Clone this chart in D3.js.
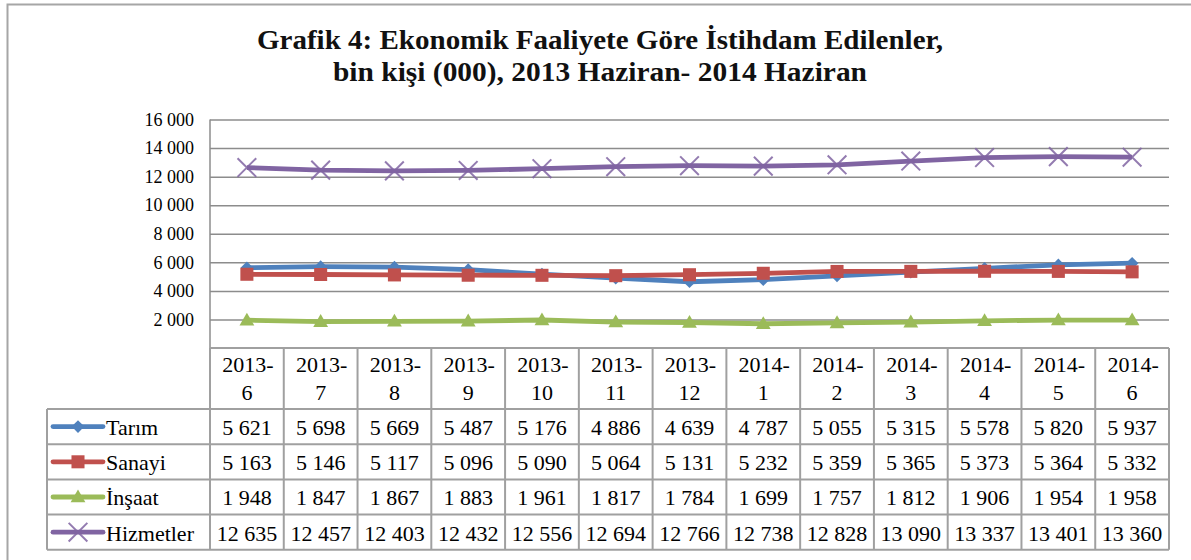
<!DOCTYPE html>
<html><head><meta charset="utf-8">
<script src="https://cdn.jsdelivr.net/npm/d3@7"></script>
<style>
html,body{margin:0;padding:0;background:#fff;}
svg{display:block;}
svg text{font-family:"Liberation Serif","Times New Roman","DejaVu Serif",serif;}
</style></head>
<body>
<svg id="chart" width="1191" height="560"></svg>
<script>
const titleLines = ["Grafik 4: Ekonomik Faaliyete Göre İstihdam Edilenler,", "bin kişi (000), 2013 Haziran- 2014 Haziran"];
const categories = ["2013-6","2013-7","2013-8","2013-9","2013-10","2013-11","2013-12","2014-1","2014-2","2014-3","2014-4","2014-5","2014-6"];
const seriesNames = ["Tarım","Sanayi","İnşaat","Hizmetler"];
const tarim = [5621,5698,5669,5487,5176,4886,4639,4787,5055,5315,5578,5820,5937];
const sanayi = [5163,5146,5117,5096,5090,5064,5131,5232,5359,5365,5373,5364,5332];
const insaat = [1948,1847,1867,1883,1961,1817,1784,1699,1757,1812,1906,1954,1958];
const hizmetler = [12635,12457,12403,12432,12556,12694,12766,12738,12828,13090,13337,13401,13360];
const yTicks = [2000,4000,6000,8000,10000,12000,14000,16000];

const seriesValues = [tarim, sanayi, insaat, hizmetler];
const colors = ["#4F81BD","#C0504D","#9BBB59","#8064A2"];
const markers = ["diamond","square","triangle","x"];

const loc = d3.formatLocale({decimal:",", thousands:" ", grouping:[3], currency:["",""]});
const fmt = loc.format(",d");
const FONT = "'Liberation Serif','Times New Roman',serif";

const svg = d3.select("#chart");
const plot = {left:210, right:1169, top:119.5, bottom:348};
const tableLeft = 47;
const headerBottom = 409;
const rowH = 35.2;
const gridColor = "#8c8c8c";

// outer frame
svg.append("rect").attr("x",7.5).attr("y",4.5).attr("width",1300).attr("height",700)
  .attr("fill","none").attr("stroke","#a6a6a6").attr("stroke-width",2);

// title
svg.append("g").selectAll("text").data(titleLines).join("text")
  .attr("x",600).attr("y",(d,i)=>49+i*32)
  .attr("text-anchor","middle").attr("font-family",FONT)
  .attr("font-weight","bold").attr("font-size",27).attr("fill","#111")
  .attr("textLength",(d,i)=> i===0?686:534).attr("lengthAdjust","spacingAndGlyphs")
  .text(d=>d);

const x = d3.scaleBand().domain(categories).range([plot.left, plot.right]);
const y = d3.scaleLinear().domain([0,16000]).range([plot.bottom, plot.top]);

// gridlines + tick labels
const yAxis = d3.axisLeft(y).tickValues(yTicks).tickFormat(fmt).tickSize(-(plot.right-plot.left)).tickPadding(16);
const ga = svg.append("g").attr("transform",`translate(${plot.left},0)`).call(yAxis)
  .attr("font-family",FONT);
ga.select(".domain").remove();
ga.selectAll(".tick line").attr("stroke",gridColor).attr("stroke-width",1.5);
ga.selectAll(".tick text").attr("font-family",FONT).attr("font-size",18).attr("fill","#000")
  .attr("x",-16);
svg.append("line").attr("x1",plot.left).attr("x2",plot.left).attr("y1",y(16000)).attr("y2",plot.bottom)
  .attr("stroke",gridColor).attr("stroke-width",1.5);

function markerPath(type, size){
  if(type==="diamond" || type==="square") return d3.symbol(d3.symbolSquare, size)();
  if(type==="triangle") return d3.symbol(d3.symbolTriangle, size)();
  return d3.symbol(d3.symbolX, size)();
}
const markerSize = {diamond:80, square:170, triangle:95, x:230};
function drawMarker(g, type, color){
  const p = g.append("path").attr("d", markerPath(type, markerSize[type]));
  if(type==="diamond") p.attr("transform","rotate(45)");
  if(type==="triangle") p.attr("transform","translate(0,1)");
  if(type==="x") p.attr("fill","none").attr("stroke",color).attr("stroke-width",2).attr("stroke-opacity",0.85);
  else p.attr("fill",color);
}

const line = d3.line().x((d,i)=>x(categories[i])+x.bandwidth()/2).y(d=>y(d));
seriesValues.forEach((vals,si)=>{
  const g = svg.append("g");
  g.append("path").datum(vals).attr("d",line).attr("fill","none")
    .attr("stroke",colors[si]).attr("stroke-width",4.8).attr("stroke-linejoin","round");
  vals.forEach((v,i)=>{
    const mg = g.append("g").attr("transform",`translate(${x(categories[i])+x.bandwidth()/2},${y(v)})`);
    drawMarker(mg, markers[si], colors[si]);
  });
});

// data table
const tg = svg.append("g").attr("font-family",FONT);
const tableColor = "#a0a0a0";
const tableBottom = headerBottom + rowH*seriesNames.length;
tg.append("line").attr("x1",plot.left).attr("x2",plot.right).attr("y1",plot.bottom).attr("y2",plot.bottom)
  .attr("stroke",tableColor).attr("stroke-width",2);
d3.range(seriesNames.length+1).forEach(r=>{
  const yy = headerBottom + r*rowH;
  tg.append("line").attr("x1",tableLeft).attr("x2",plot.right).attr("y1",yy).attr("y2",yy)
    .attr("stroke",tableColor).attr("stroke-width",2);
});
categories.concat(["_end"]).forEach((c,i)=>{
  const xx = i<categories.length ? x(c) : plot.right;
  tg.append("line").attr("x1",xx).attr("x2",xx).attr("y1",plot.bottom).attr("y2",tableBottom)
    .attr("stroke",tableColor).attr("stroke-width",2);
});
tg.append("line").attr("x1",tableLeft).attr("x2",tableLeft).attr("y1",headerBottom).attr("y2",tableBottom)
  .attr("stroke",tableColor).attr("stroke-width",2);

categories.forEach(c=>{
  const parts = c.split("-");
  const cx = x(c)+x.bandwidth()/2;
  const t = tg.append("text").attr("text-anchor","middle").attr("font-family",FONT)
    .attr("font-size",22).attr("fill","#000");
  t.append("tspan").attr("x",cx+1).attr("y",372).text(parts[0]+"-");
  t.append("tspan").attr("x",cx).attr("y",400).text(parts[1]);
});
seriesNames.forEach((name,si)=>{
  const top = headerBottom + si*rowH;
  const cy = top + rowH/2;
  tg.append("line").attr("x1",53).attr("x2",103).attr("y1",cy).attr("y2",cy)
    .attr("stroke",colors[si]).attr("stroke-width",4.8).attr("stroke-linecap","round");
  const mg = tg.append("g").attr("transform",`translate(78,${cy})`);
  drawMarker(mg, markers[si], colors[si]);
  tg.append("text").attr("x",106).attr("y",top+26).attr("font-family",FONT)
    .attr("font-size",22).attr("fill","#000").text(name);
  seriesValues[si].forEach((v,i)=>{
    tg.append("text").attr("x",x(categories[i])+x.bandwidth()/2).attr("y",top+26)
      .attr("text-anchor","middle").attr("font-family",FONT)
      .attr("font-size",22).attr("fill","#000").text(fmt(v));
  });
});
</script>
</body></html>
